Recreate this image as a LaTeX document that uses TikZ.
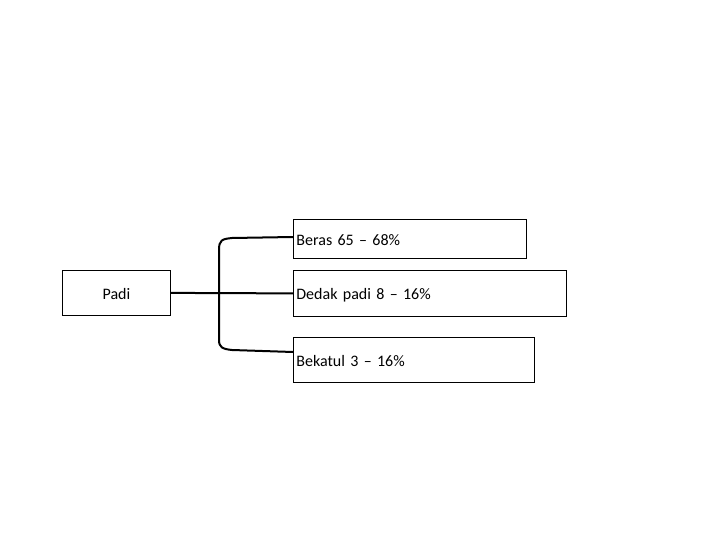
\documentclass[tikz,border=0pt]{standalone}
\usepackage{graphicx}
\usepackage{fontspec}
\setmainfont{Carlito}
\newcommand{\bt}[1]{\scalebox{1.6}{#1}}
\begin{document}
\begin{tikzpicture}[x=1pt,y=-1pt,
  box/.style={draw,line width=0.8pt,inner sep=0pt,text height=17pt,text depth=4pt,align=left,anchor=north west},
  conn/.style={line width=2pt}]
\useasboundingbox (0,0) rectangle (720,540);
\node[box,minimum width=108pt,minimum height=45pt,align=center] (padi) at (62,270) {\bt{Padi}};
\node[box,minimum width=233pt,minimum height=39pt,text width=227pt] (beras) at (293,219) {\bt{Beras 65 – 68\%}};
\node[box,minimum width=273pt,minimum height=46pt,text width=267pt] (dedak) at (293,270) {\bt{Dedak padi 8 – 16\%}};
\node[box,minimum width=241pt,minimum height=45pt,text width=235pt] (bekatul) at (293,337) {\bt{Bekatul 3 – 16\%}};
\draw[conn] (padi.east) -- (dedak.west);
\draw[conn] (beras.west|-0,237) -- (232,238) .. controls (222,239) and (219,240) .. (219,250) -- (219,340) .. controls (219,347) and (222,349) .. (232,350) -- (bekatul.west|-0,352);
\end{tikzpicture}
\end{document}
